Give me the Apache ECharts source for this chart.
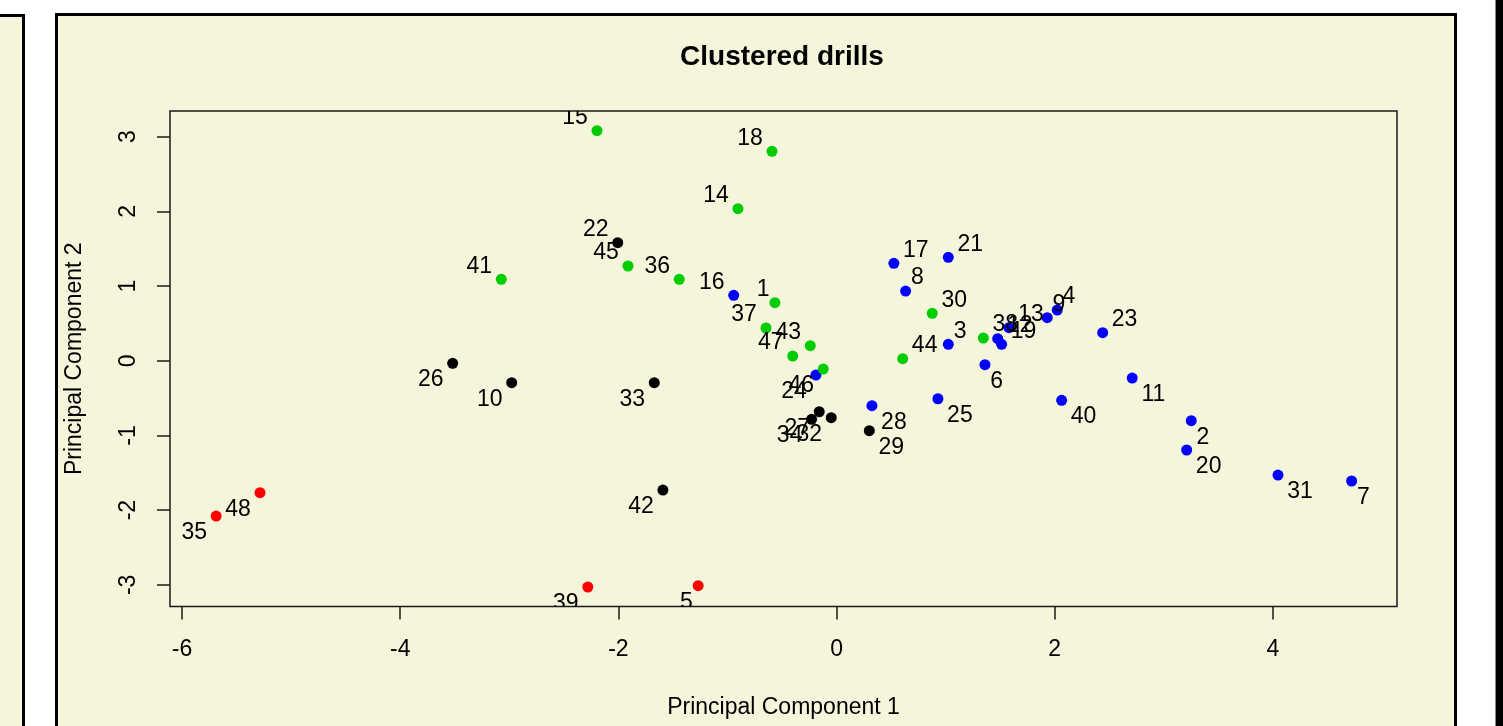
<!DOCTYPE html>
<html>
<head>
<meta charset="utf-8">
<title>Clustered drills</title>
<script src="https://cdn.jsdelivr.net/npm/echarts@6/dist/echarts.min.js"></script>
<style>
  html, body { margin: 0; padding: 0; background: #fff; width: 1503px; height: 726px; overflow: hidden; }
  .panel { position: absolute; background: #F5F5DC; border: 3px solid #000; box-sizing: border-box; }
  #left { left: -100px; top: 14px; width: 125px; height: 800px; }
  #main { left: 55px; top: 13px; width: 1402px; height: 800px; }
  #right { position: absolute; left: 1495px; top: 0; width: 20px; height: 726px; background: #000; border-left: 1px solid #888; }
  #chart { position: absolute; left: 0; top: 0; width: 1503px; height: 726px; }
</style>
</head>
<body>
<div class="panel" id="left"></div>
<div class="panel" id="main"></div>
<div id="right"></div>
<div id="chart"></div>
<script>
// drill labels, principal components and cluster (1 black, 2 red, 3 green, 4 blue)
const drillNames = ['1', '2', '3', '4', '5', '6', '7', '8', '9', '10', '11', '12', '13', '14', '15', '16',
  '17', '18', '19', '20', '21', '22', '23', '24', '25', '26', '27', '28', '29', '30', '31', '32',
  '33', '34', '35', '36', '37', '38', '39', '40', '41', '42', '43', '44', '45', '46', '47', '48']
const pc1 = [-0.565, 3.251, 1.024, 2.023, -1.269, 1.360, 4.721, 0.633, 1.931, -2.978, 2.710, 1.477,
  1.580, -0.904, -2.196, -0.943, 0.525, -0.592, 1.513, 3.209, 1.024, -2.006, 2.439, -0.189,
  0.929, -3.519, -0.159, 0.324, 0.300, 0.877, 4.046, -0.049, -1.671, -0.229, -5.687, -1.442,
  -0.647, 1.345, -2.280, 2.063, -3.073, -1.592, -0.241, 0.606, -1.912, -0.122, -0.402, -5.285]
const pc2 = [0.777, -0.803, 0.219, 0.679, -3.012, -0.053, -1.610, 0.933, 0.576, -0.294, -0.232, 0.295,
  0.442, 2.035, 3.079, 0.875, 1.304, 2.803, 0.220, -1.195, 1.384, 1.580, 0.375, -0.191,
  -0.509, -0.035, -0.683, -0.602, -0.937, 0.634, -1.530, -0.763, -0.294, -0.785, -2.079, 1.090,
  0.438, 0.304, -3.029, -0.530, 1.090, -1.731, 0.201, 0.027, 1.268, -0.111, 0.063, -1.767]
const cluster = [3, 4, 4, 4, 2, 4, 4, 4, 4, 1, 4, 4, 4, 3, 3, 4,
  4, 3, 4, 4, 4, 1, 4, 4, 4, 1, 1, 4, 1, 3, 4, 1,
  1, 1, 2, 3, 3, 3, 2, 4, 3, 1, 3, 3, 3, 3, 3, 2]
const xTicks = [-6, -4, -2, 0, 2, 4]
const yTicks = [-3, -2, -1, 0, 1, 2, 3]

const clusterColors = { 1: '#000000', 2: '#FF0000', 3: '#00CD00', 4: '#0000FF' }
const fontFamily = '"Liberation Sans", Arial, sans-serif'
const fontSize = 23
const ink = '#1a1a1a'

const points = drillNames.map((name, i) => ({
  name: name,
  value: [pc1[i], pc2[i]],
  itemStyle: { color: clusterColors[cluster[i]] }
}))

// labels sit diagonally away from the origin, like calibrate::textxy, clipped to the plot box
function renderLabel(params, api) {
  const i = params.dataIndex
  const x = api.value(0)
  const y = api.value(1)
  const pt = api.coord([x, y])
  const name = drillNames[i]
  const gap = 0.3 * name.length * 0.556 * fontSize + 1.5
  return {
    type: 'text',
    x: pt[0] + (x < 0 ? -gap : gap),
    y: pt[1] + (y < 0 ? 5 : -1.5),
    style: {
      text: name,
      align: x < 0 ? 'right' : 'left',
      verticalAlign: y < 0 ? 'top' : 'bottom',
      fontFamily: fontFamily,
      fontSize: fontSize,
      fill: '#000'
    }
  }
}

const chart = echarts.init(document.getElementById('chart'), null, { renderer: 'canvas' })
chart.setOption({
  animation: false,
  backgroundColor: 'transparent',
  title: {
    text: 'Clustered drills',
    left: 782,
    top: 43,
    padding: 0,
    textAlign: 'center',
    textStyle: { fontFamily: fontFamily, fontWeight: 'bold', fontSize: 28, color: '#000' }
  },
  grid: {
    left: 170,
    top: 111,
    right: 106,
    bottom: 119.5,
    show: true,
    borderColor: ink,
    borderWidth: 1.5,
    backgroundColor: 'transparent'
  },
  xAxis: {
    type: 'value',
    min: -6.11,
    max: 5.137,
    name: 'Principal Component 1',
    nameLocation: 'middle',
    nameGap: 90,
    nameTextStyle: { fontFamily: fontFamily, fontSize: fontSize, color: '#000' },
    axisLine: { show: false, onZero: false },
    axisTick: { show: true, length: 13, customValues: xTicks, lineStyle: { color: ink, width: 1.5 } },
    axisLabel: { customValues: xTicks, margin: 32, fontFamily: fontFamily, fontSize: fontSize, color: '#000' },
    splitLine: { show: false }
  },
  yAxis: {
    type: 'value',
    min: -3.29,
    max: 3.343,
    name: 'Principal Component 2',
    nameLocation: 'middle',
    nameGap: 84,
    nameTextStyle: { fontFamily: fontFamily, fontSize: fontSize, color: '#000' },
    axisLine: { show: false, onZero: false },
    axisTick: { show: true, length: 13, customValues: yTicks, lineStyle: { color: ink, width: 1.5 } },
    axisLabel: { customValues: yTicks, rotate: 90, margin: 30, fontFamily: fontFamily, fontSize: fontSize, color: '#000' },
    splitLine: { show: false }
  },
  series: [
    {
      type: 'scatter',
      symbol: 'circle',
      symbolSize: 11,
      clip: true,
      data: points,
      itemStyle: { opacity: 1 },
      emphasis: { disabled: true }
    },
    {
      type: 'custom',
      clip: true,
      z: 5,
      data: points.map(p => p.value),
      renderItem: renderLabel,
      silent: true
    }
  ]
})
</script>
</body>
</html>
